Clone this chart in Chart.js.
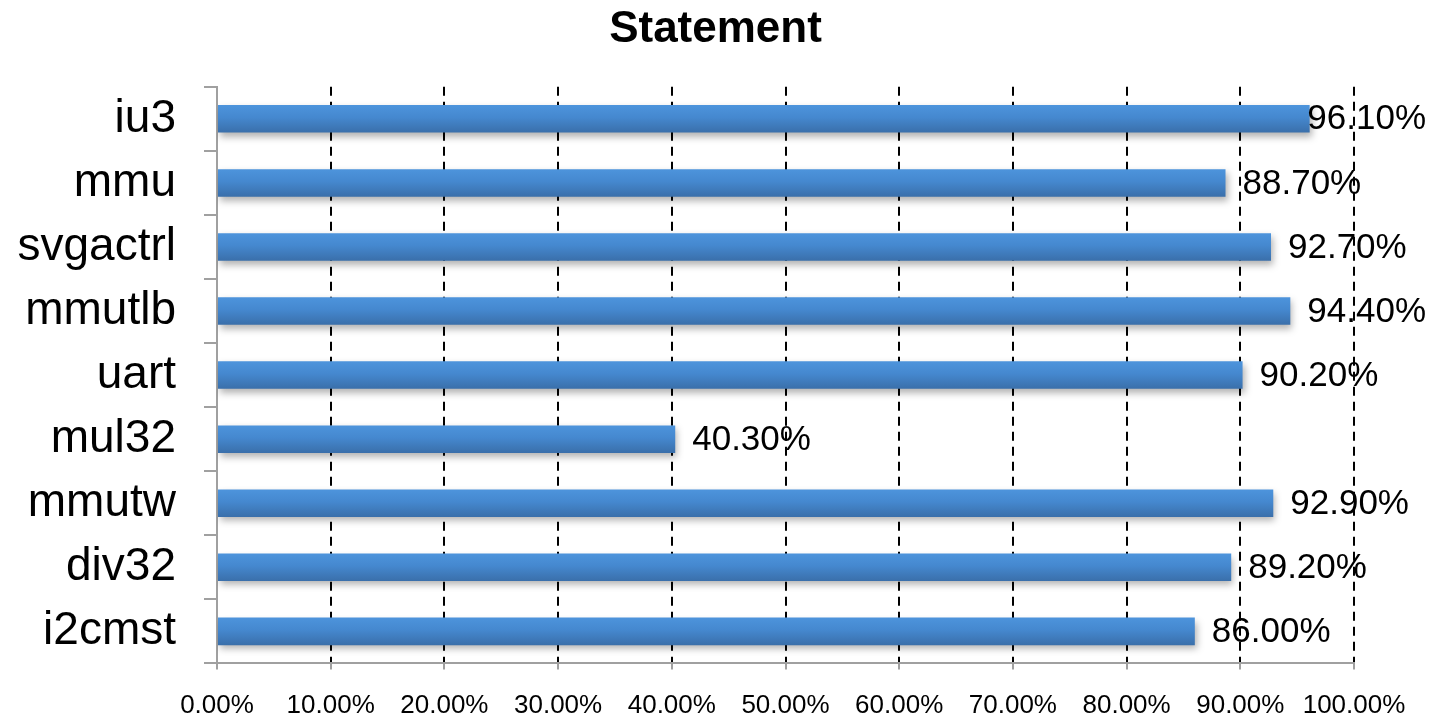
<!DOCTYPE html>
<html>
<head>
<meta charset="utf-8">
<script src="https://cdn.jsdelivr.net/npm/chart.js@4/dist/chart.umd.min.js"></script>
<style>
  html, body { margin: 0; padding: 0; background: #ffffff; }
  #wrap { width: 1431px; height: 719px; }
</style>
</head>
<body>
<div id="wrap"><canvas id="chart"></canvas></div>
<script>
// Statement coverage per module (percent)
const modules = ['iu3', 'mmu', 'svgactrl', 'mmutlb', 'uart', 'mul32', 'mmutw', 'div32', 'i2cmst'];
const coverage = [96.1, 88.7, 92.7, 94.4, 90.2, 40.3, 92.9, 89.2, 86.0];
const xTicks = [0, 10, 20, 30, 40, 50, 60, 70, 80, 90, 100];

const FONT = "'Liberation Sans', Arial, Helvetica, sans-serif";
const BAR_PCT = 0.43;

// Vertical gradient for each bar, lighter on top
function barGradient(ctx) {
  const chart = ctx.chart;
  const yScale = chart.scales && chart.scales.y;
  if (!chart.chartArea || !yScale) return '#4a8fd6';
  const cy = yScale.getPixelForValue(ctx.dataIndex);
  const half = (yScale.height / modules.length) * BAR_PCT / 2;
  const g = chart.ctx.createLinearGradient(0, cy - half, 0, cy + half);
  g.addColorStop(0, '#4d94dc');
  g.addColorStop(0.45, '#4588cf');
  g.addColorStop(1, '#3a6faa');
  return g;
}

// Soft drop shadow under the bars
const barShadow = {
  id: 'barShadow',
  beforeDatasetDraw(chart) {
    const c = chart.ctx;
    c.save();
    c.shadowColor = 'rgba(0,0,0,0.3)';
    c.shadowBlur = 7;
    c.shadowOffsetX = 2;
    c.shadowOffsetY = 4;
  },
  afterDatasetDraw(chart) {
    chart.ctx.restore();
  }
};

// Percentage labels to the right of each bar
const valueLabels = {
  id: 'valueLabels',
  afterDatasetsDraw(chart) {
    const c = chart.ctx;
    const meta = chart.getDatasetMeta(0);
    c.save();
    c.font = '35px ' + FONT;
    c.fillStyle = '#000000';
    c.textBaseline = 'middle';
    c.textAlign = 'left';
    meta.data.forEach((bar, i) => {
      const text = coverage[i].toFixed(2) + '%';
      const w = c.measureText(text).width;
      let x = bar.x + 17;
      if (x + w > chart.width - 5) x = chart.width - 5 - w;
      c.fillText(text, x, bar.y + 1);
    });
    c.restore();
  }
};

new Chart(document.getElementById('chart'), {
  type: 'bar',
  data: {
    labels: modules,
    datasets: [{
      label: 'Statement',
      data: coverage,
      backgroundColor: barGradient,
      borderWidth: 0,
      barPercentage: BAR_PCT,
      categoryPercentage: 1.0
    }]
  },
  options: {
    indexAxis: 'y',
    responsive: true,
    maintainAspectRatio: false,
    animation: false,
    layout: { padding: 0 },
    plugins: {
      legend: { display: false },
      tooltip: { enabled: false },
      title: {
        display: true,
        text: 'Statement',
        color: '#000000',
        font: { family: FONT, size: 44, weight: 'bold', lineHeight: 1.2 },
        padding: { top: 3, bottom: 31 }
      }
    },
    scales: {
      x: {
        min: 0,
        max: 100,
        afterBuildTicks(scale) {
          scale.ticks = xTicks.map(v => ({ value: v }));
        },
        afterFit(scale) { scale.height = 52; },
        ticks: {
          color: '#000000',
          font: { family: FONT, size: 26 },
          padding: 21,
          maxRotation: 0,
          autoSkip: false,
          callback: v => Number(v).toFixed(2) + '%'
        },
        grid: {
          color: c => (c.index === 0 ? 'rgba(0,0,0,0)' : '#000000'),
          lineWidth: 2,
          tickColor: '#a0a0a0',
          tickLength: 6,
          tickWidth: 2
        },
        border: { display: true, color: '#a0a0a0', width: 2, dash: [9, 6] }
      },
      y: {
        afterFit(scale) { scale.width = 217; },
        ticks: {
          color: '#000000',
          font: { family: FONT, size: 46 },
          padding: 28
        },
        grid: {
          offset: true,
          drawOnChartArea: false,
          color: '#a0a0a0',
          lineWidth: 2,
          tickLength: 13
        },
        border: { display: true, color: '#a0a0a0', width: 2 }
      },
      // empty right-hand margin that leaves room for the value labels
      yRight: {
        type: 'category',
        labels: modules,
        position: 'right',
        afterFit(scale) { scale.width = 77; },
        ticks: { display: false },
        grid: { display: false },
        border: { display: false }
      }
    }
  },
  plugins: [barShadow, valueLabels]
});
</script>
</body>
</html>
